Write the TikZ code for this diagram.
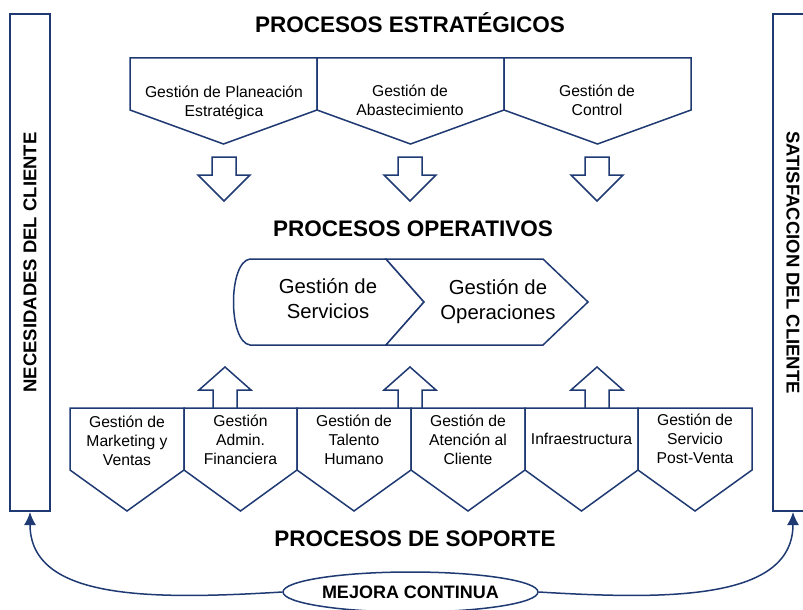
\documentclass[tikz,border=0pt]{standalone}
\usepackage{fontspec}
\setmainfont{Liberation Sans}
\usepackage{tikz}
\usetikzlibrary{shapes.geometric}
\usetikzlibrary{arrows.meta}
\definecolor{mblue}{RGB}{31,58,115}
\tikzset{mshape/.style={draw=mblue,line width=1.5pt,fill=white,line join=miter}}
\tikzset{mtext/.style={align=center,inner sep=0pt,font=\fontsize{15.7}{19}\selectfont}}
\tikzset{mbig/.style={align=center,inner sep=0pt,font=\fontsize{20.3}{25}\selectfont}}
\tikzset{mtitle/.style={anchor=base,inner sep=0pt,font=\bfseries\fontsize{22.5}{27}\selectfont}}
\tikzset{mbar/.style={draw=mblue,line width=2pt,minimum width=497pt,minimum height=40pt,inner sep=0pt,font=\bfseries\fontsize{18.5}{22}\selectfont}}
\tikzset{mloop/.style={draw=mblue,line width=1.5pt,fill=white,ellipse,minimum width=255pt,minimum height=40pt,inner sep=0pt,font=\bfseries\fontsize{18}{22}\selectfont}}
\tikzset{mlink/.style={draw=mblue,line width=1.5pt,-{Latex[length=13pt,width=12pt]}}}

\begin{document}
\begin{tikzpicture}[x=1pt,y=-1pt]
\useasboundingbox (0,0) rectangle (803,610);

% side bars
\node[mbar,rotate=90] (nec) at (30,262.5) {NECESIDADES DEL CLIENTE};
\node[mbar,rotate=-90] (sat) at (793,262.5) {SATISFACCION DEL CLIENTE};

% strategic processes
\node[mtitle] (estr) at (410,33) {PROCESOS ESTRATÉGICOS};
\draw[mshape] (130,58) -- (317,58) -- (317,110) -- (223.5,144) -- (130,110) -- cycle;
\draw[mshape] (317,58) -- (504,58) -- (504,110) -- (410.5,144) -- (317,110) -- cycle;
\draw[mshape] (504,58) -- (691,58) -- (691,110) -- (597.5,144) -- (504,110) -- cycle;
\node[mtext] (plan) at (224,102.4) {Gestión de Planeación\\Estratégica};
\node[mtext] (abast) at (410,100.5) {Gestión de\\Abastecimiento};
\node[mtext] (ctrl) at (597,100.5) {Gestión de\\Control};

\draw[mshape] (212,157) -- (236,157) -- (236,175) -- (250,175) -- (224,201) -- (198,175) -- (212,175) -- cycle;
\draw[mshape] (398,157) -- (422,157) -- (422,175) -- (436,175) -- (410,201) -- (384,175) -- (398,175) -- cycle;
\draw[mshape] (585,157) -- (609,157) -- (609,175) -- (623,175) -- (597,201) -- (571,175) -- (585,175) -- cycle;

% operative processes
\node[mtitle] (oper) at (413,236) {PROCESOS OPERATIVOS};
\draw[mshape] (250,259) -- (386,259) -- (424,302) -- (386,345) -- (250,345) .. controls (228,342) and (228,262) .. cycle;
\draw[mshape] (386,259) -- (543,259) -- (588,302) -- (543,345) -- (386,345) -- (424,302) -- cycle;
\node[mbig] (serv) at (328,299) {Gestión de\\Servicios};
\node[mbig] (opera) at (498,301.4) {Gestión de\\Operaciones};

\draw[mshape] (213,410) -- (213,390) -- (199,390) -- (225,367) -- (251,390) -- (237,390) -- (237,410);
\draw[mshape] (398,410) -- (398,390) -- (384,390) -- (410,367) -- (436,390) -- (422,390) -- (422,410);
\draw[mshape] (585,410) -- (585,390) -- (571,390) -- (597,367) -- (623,390) -- (609,390) -- (609,410);

% support processes
\draw[mshape] (70,408) -- (184,408) -- (184,470) -- (127,511) -- (70,470) -- cycle;
\draw[mshape] (184,408) -- (297,408) -- (297,470) -- (240.5,511) -- (184,470) -- cycle;
\draw[mshape] (297,408) -- (411,408) -- (411,470) -- (354,511) -- (297,470) -- cycle;
\draw[mshape] (411,408) -- (525,408) -- (525,470) -- (468,511) -- (411,470) -- cycle;
\draw[mshape] (525,408) -- (638,408) -- (638,470) -- (581.5,511) -- (525,470) -- cycle;
\draw[mshape] (638,408) -- (752,408) -- (752,470) -- (695,511) -- (638,470) -- cycle;
\node[mtext] (mkt) at (127,441) {Gestión de\\Marketing y\\Ventas};
\node[mtext] (fin) at (240.5,440) {Gestión\\Admin.\\Financiera};
\node[mtext] (tal) at (354,440) {Gestión de\\Talento\\Humano};
\node[mtext] (aten) at (468,440) {Gestión de\\Atención al\\Cliente};
\node[mtext] (infra) at (581.5,439) {Infraestructura};
\node[mtext] (post) at (695,439) {Gestión de\\Servicio\\Post-Venta};
\node[mtitle] (sop) at (415,546) {PROCESOS DE SOPORTE};

% continuous improvement
\node[mloop] (mejora) at (410.5,592) {MEJORA CONTINUA};
\draw[mlink] (mejora.west) .. controls (150,600) and (30,600) .. (nec.west);
\draw[mlink] (mejora.east) .. controls (670,600) and (793,600) .. (sat.east);

\end{tikzpicture}
\end{document}
